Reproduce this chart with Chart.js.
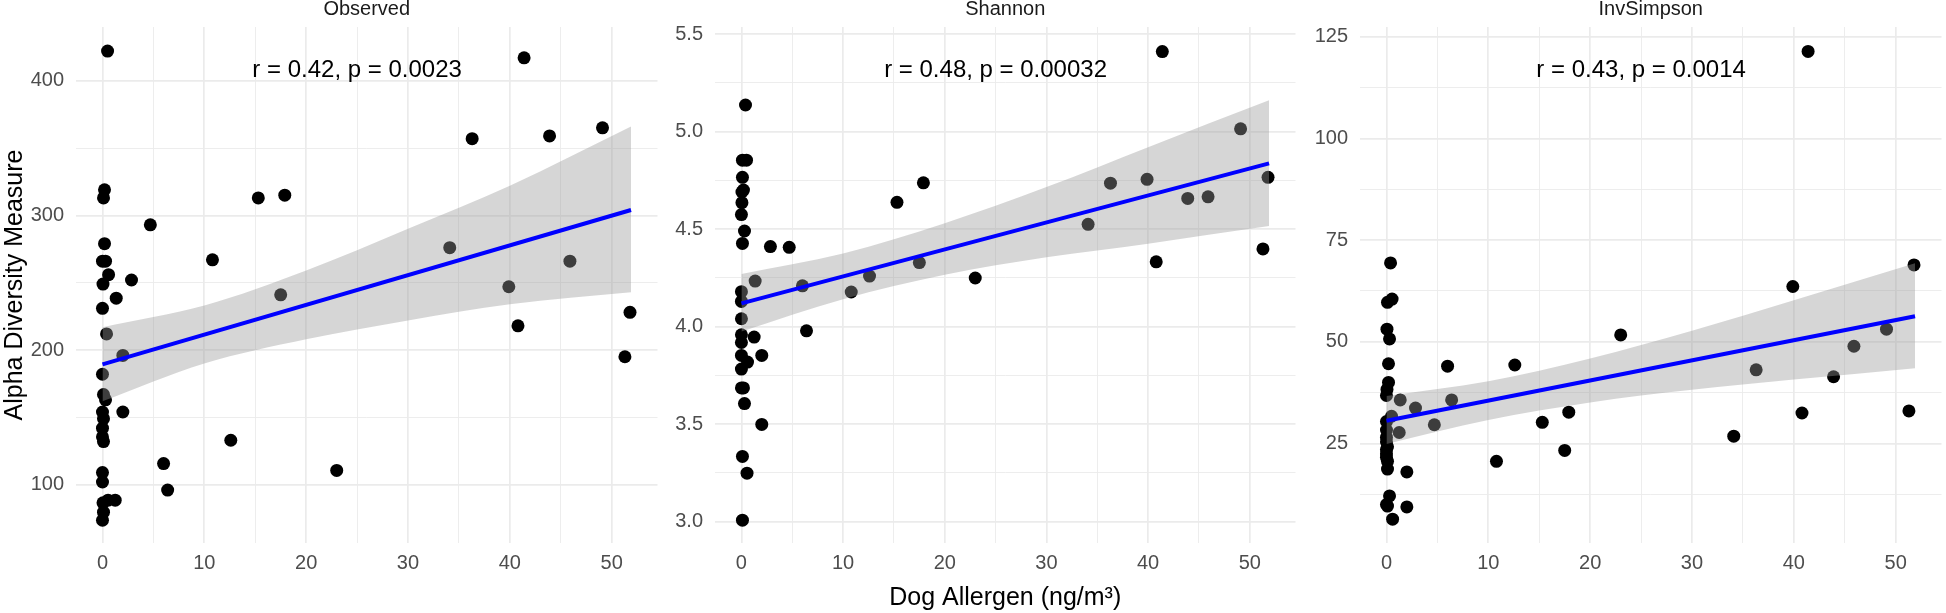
<!DOCTYPE html>
<html>
<head>
<meta charset="utf-8">
<title>Alpha diversity vs dog allergen</title>
<script src="https://cdn.jsdelivr.net/npm/chart.js@4.4.1/dist/chart.umd.min.js"></script>
<style>
    html, body {
        margin: 0;
        padding: 0;
        background: #ffffff;
        overflow: hidden;
    }

    .panel {
        position: absolute;
        top: 0;
    }
</style>
</head>
<body>
<div class="panel" style="left: 0px;"><canvas id="observed-chart" width="664" height="613"></canvas></div>
<div class="panel" style="left: 664px;"><canvas id="shannon-chart" width="638" height="613"></canvas></div>
<div class="panel" style="left: 1302px;"><canvas id="invsimpson-chart" width="646" height="613"></canvas></div>

<script>
// Dog allergen per sample (ng/m3), shared by all three facets
const allergen = [
    0.6, 0.55, 0.5, 0.4, 0.3, 0.3, 0.2, 0.2, 0.1, 0.1, 0.1, 0.1, 0.1, 0.05, 0.05, 0, 0, 0, 0, 0, 0, 0, 0, 0,
    41.4, 36.3, 43.9, 49.1, 15.3, 17.9, 4.7, 10.8, 2.85, 1.35, 34.1, 45.9, 39.9, 17.5, 40.8, 51.8, 51.3, 2.0, 2.0, 12.6, 6.0, 23.0, 6.4, 1.25
];

// Alpha diversity measures, same sample order as allergen
const observed = [
    256, 88.5, 422, 212, 266, 163, 319, 279, 132, 79.6, 167, 149, 313, 249, 86.5, 266, 231, 182, 154, 142, 135.5, 109, 102, 73.6,
    417, 357, 359, 365, 313, 315, 293, 267, 252, 238.5, 276, 266, 247, 241, 218, 228, 195, 196, 154, 133, 115.7, 110.6, 96, 88.5
];
const shannon = [
    3.818, 3.248, 4.853, 5.136, 4.49, 3.605, 3.685, 4.70, 4.853, 4.765, 4.426, 3.334, 3.007, 4.69, 4.635, 4.574, 4.179, 4.129, 4.04, 3.958, 3.918, 3.852, 3.782, 3.685,
    5.41, 4.735, 4.657, 5.014, 4.637, 4.737, 4.406, 4.177, 4.41, 4.233, 4.524, 4.665, 4.755, 4.328, 4.332, 4.765, 4.398, 3.852, 3.498, 4.259, 4.209, 4.249, 3.978, 3.946
];
const invSimpson = [
    6.4, 60.5, 31.7, 69.4, 12.1, 50.7, 44.6, 40, 24.2, 20.6, 18.7, 9.6, 59.7, 53.1, 38.3, 36.8, 30.4, 28.3, 26.5, 25.4, 23.5, 22.5, 21.6, 10.0,
    121.4, 43.1, 41.4, 53.1, 30.2, 32.7, 29.6, 20.6, 33.7, 35.7, 26.8, 48.9, 63.6, 23.3, 32.5, 68.9, 33.0, 18.0, 9.4, 44.3, 44.0, 51.7, 35.7, 27.7
];

// Linear fit and 95% confidence band
const fitX = [0, 51.9];
const bandX = [0, 10, 20, 30, 40, 51.9];

const observedFit = [189.4, 304];
const observedUpper = [217, 233, 259, 290, 322, 366];
const observedLower = [162, 190, 208, 222, 234, 243];

const shannonFit = [4.119, 4.837];
const shannonUpper = [4.27, 4.375, 4.53, 4.715, 4.92, 5.16];
const shannonLower = [3.975, 4.14, 4.265, 4.355, 4.425, 4.515];

const invSimpsonFit = [30.6, 56.3];
const invSimpsonUpper = [36.7, 40.3, 45.9, 52.7, 60.2, 69.3];
const invSimpsonLower = [24.9, 30.8, 35.1, 38.2, 40.7, 43.5];

// Facet titles and correlation labels
const facetTitles = ['Observed', 'Shannon', 'InvSimpson'];
const corLabels = ['r = 0.42, p = 0.0023', 'r = 0.48, p = 0.00032', 'r = 0.43, p = 0.0014'];
const corLabelX = 25;

const FONT = '"Liberation Sans", Arial, Helvetica, sans-serif';
const GRID_COLOR = '#ebebeb';
const TICK_COLOR = '#4d4d4d';

document.addEventListener('DOMContentLoaded', function() {
    Chart.defaults.font.family = FONT;

    buildPanel('observed-chart', {
        title: facetTitles[0],
        label: corLabels[0],
        values: observed,
        fit: observedFit,
        upper: observedUpper,
        lower: observedLower,
        yMin: 56.7, yMax: 439.9, yStep: 50, yMajor: 100, decimals: 0,
        yAxisWidth: 76,
        yTitle: 'Alpha Diversity Measure'
    });

    buildPanel('shannon-chart', {
        title: facetTitles[1],
        label: corLabels[1],
        values: shannon,
        fit: shannonFit,
        upper: shannonUpper,
        lower: shannonLower,
        yMin: 2.89, yMax: 5.536, yStep: 0.25, yMajor: 0.5, decimals: 1,
        yAxisWidth: 51,
        xTitle: 'Dog Allergen (ng/m\u00B3)'
    });

    buildPanel('invsimpson-chart', {
        title: facetTitles[2],
        label: corLabels[2],
        values: invSimpson,
        fit: invSimpsonFit,
        upper: invSimpsonUpper,
        lower: invSimpsonLower,
        yMin: 0.53, yMax: 127.4, yStep: 12.5, yMajor: 25, decimals: 0,
        yAxisWidth: 58
    });
});

// true when value sits on a major grid line
function isMultiple(value, step) {
    const r = value / step;
    return Math.abs(r - Math.round(r)) < 1e-6;
}

// Strip title above the panel and the correlation label inside it
const panelTextPlugin = {
    id: 'panelText',
    afterDraw(chart, args, opts) {
        const { ctx, chartArea } = chart;
        const xScale = chart.scales.x;
        ctx.save();
        ctx.textAlign = 'center';
        ctx.textBaseline = 'alphabetic';

        ctx.fillStyle = '#1a1a1a';
        ctx.font = '20px ' + FONT;
        ctx.fillText(opts.title, (chartArea.left + chartArea.right) / 2, 15);

        ctx.fillStyle = '#000000';
        ctx.font = '24px ' + FONT;
        ctx.fillText(opts.label, xScale.getPixelForValue(corLabelX), chartArea.top + 50);
        ctx.restore();
    }
};

function buildPanel(canvasId, cfg) {
    const points = allergen.map((x, i) => ({ x: x, y: cfg.values[i] }));
    const upper = bandX.map((x, i) => ({ x: x, y: cfg.upper[i] }));
    const lower = bandX.map((x, i) => ({ x: x, y: cfg.lower[i] }));
    const fit = fitX.map((x, i) => ({ x: x, y: cfg.fit[i] }));

    new Chart(document.getElementById(canvasId), {
        type: 'scatter',
        data: {
            datasets: [
                {
                    data: points,
                    backgroundColor: '#000000',
                    borderWidth: 0,
                    pointRadius: 6.5,
                    pointHoverRadius: 6.5,
                    order: 3
                },
                {
                    type: 'line',
                    data: upper,
                    borderColor: 'rgba(0,0,0,0)',
                    borderWidth: 0,
                    pointRadius: 0,
                    fill: false,
                    cubicInterpolationMode: 'monotone',
                    order: 2
                },
                {
                    type: 'line',
                    data: lower,
                    borderColor: 'rgba(0,0,0,0)',
                    borderWidth: 0,
                    pointRadius: 0,
                    fill: '-1',
                    backgroundColor: 'rgba(153, 153, 153, 0.4)',
                    cubicInterpolationMode: 'monotone',
                    order: 2
                },
                {
                    type: 'line',
                    data: fit,
                    borderColor: '#0000ff',
                    borderWidth: 4,
                    pointRadius: 0,
                    fill: false,
                    order: 1
                }
            ]
        },
        options: {
            responsive: false,
            animation: false,
            events: [],
            layout: {
                padding: { top: 27, right: 0, bottom: 0, left: 0 }
            },
            plugins: {
                legend: { display: false },
                tooltip: { enabled: false },
                panelText: { title: cfg.title, label: cfg.label }
            },
            scales: {
                x: {
                    type: 'linear',
                    min: -2.6,
                    max: 54.5,
                    afterFit: function(scale) { scale.height = 70; },
                    border: { display: false },
                    grid: {
                        color: GRID_COLOR,
                        drawTicks: false,
                        lineWidth: ctx => isMultiple(ctx.tick.value, 10) ? 1.7 : 0.9
                    },
                    ticks: {
                        stepSize: 5,
                        maxTicksLimit: 30,
                        includeBounds: false,
                        autoSkip: false,
                        maxRotation: 0,
                        padding: 8,
                        color: TICK_COLOR,
                        font: { size: 20 },
                        callback: value => isMultiple(value, 10) ? String(value) : ''
                    },
                    title: {
                        display: !!cfg.xTitle,
                        text: cfg.xTitle || '',
                        color: '#000000',
                        font: { size: 25 },
                        padding: { top: 0, bottom: 0 }
                    }
                },
                y: {
                    type: 'linear',
                    min: cfg.yMin,
                    max: cfg.yMax,
                    afterFit: function(scale) { scale.width = cfg.yAxisWidth; },
                    border: { display: false },
                    grid: {
                        color: GRID_COLOR,
                        drawTicks: false,
                        lineWidth: ctx => isMultiple(ctx.tick.value, cfg.yMajor) ? 1.7 : 0.9
                    },
                    ticks: {
                        stepSize: cfg.yStep,
                        maxTicksLimit: 30,
                        includeBounds: false,
                        autoSkip: false,
                        padding: 12,
                        color: TICK_COLOR,
                        font: { size: 20 },
                        callback: value => isMultiple(value, cfg.yMajor) ? value.toFixed(cfg.decimals) : ''
                    },
                    title: {
                        display: !!cfg.yTitle,
                        text: cfg.yTitle || '',
                        color: '#000000',
                        font: { size: 25 },
                        padding: { top: 0, bottom: 0 }
                    }
                }
            }
        },
        plugins: [panelTextPlugin]
    });
}
</script>
</body>
</html>
